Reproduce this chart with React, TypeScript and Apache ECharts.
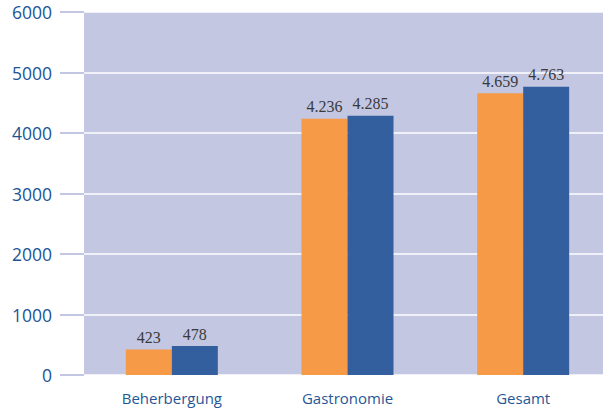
import React, { useEffect, useRef } from "react";
import * as echarts from "echarts";

const categories = ["Beherbergung", "Gastronomie", "Gesamt"];
const seriesA = [423, 4236, 4659];
const seriesB = [478, 4285, 4763];
const yTicks = [0, 1000, 2000, 3000, 4000, 5000, 6000];

const fmt = (v: number) => {
  const s = String(Math.round(v));
  return s.replace(/\B(?=(\d{3})+(?!\d))/g, ".");
};

export default function App() {
  const ref = useRef<HTMLDivElement>(null);
  useEffect(() => {
    if (!ref.current) return;
    const chart = echarts.init(ref.current, null, { renderer: "svg" });
    const label = {
      show: true,
      position: "top" as const,
      distance: 4,
      fontFamily: "Liberation Serif",
      fontSize: 16,
      color: "#3a3a3a",
      formatter: (p: any) => fmt(p.value),
    };
    chart.setOption({
      animation: false,
      backgroundColor: "#ffffff",
      grid: {
        left: 84,
        right: 0,
        top: 12,
        bottom: 34,
        show: true,
        backgroundColor: "#c3c7e2",
        borderWidth: 0,
      },
      xAxis: {
        type: "category",
        data: categories,
        axisLine: { show: false },
        axisTick: { show: false },
        axisLabel: {
          margin: 15,
          fontFamily: "Open Sans",
          fontSize: 15,
          color: "#1f5797",
        },
      },
      yAxis: {
        type: "value",
        min: yTicks[0],
        max: yTicks[yTicks.length - 1],
        interval: 1000,
        axisLine: { show: false },
        axisTick: {
          show: true,
          length: 24,
          lineStyle: { color: "#c3c7e2", width: 2 },
        },
        splitLine: { show: true, lineStyle: { color: "#ffffff", width: 1.5 } },
        axisLabel: {
          margin: 32,
          fontFamily: "Open Sans",
          fontSize: 17.5,
          fontWeight: 500,
          color: "#1a5595",
          formatter: (v: number) => String(v),
        },
      },
      series: [
        {
          type: "bar",
          data: seriesA,
          barWidth: 46,
          barGap: "0%",
          itemStyle: { color: "#f79a48" },
          label,
        },
        {
          type: "bar",
          data: seriesB,
          barWidth: 46,
          barGap: "0%",
          itemStyle: { color: "#345f9f" },
          label,
        },
      ],
    });
    return () => chart.dispose();
  }, []);
  return (
    <div
      style={{
        position: "absolute",
        left: 0,
        top: 0,
        width: 603,
        height: 409,
        overflow: "hidden",
      }}
    >
      <div ref={ref} style={{ width: 611, height: 409 }} />
    </div>
  );
}
